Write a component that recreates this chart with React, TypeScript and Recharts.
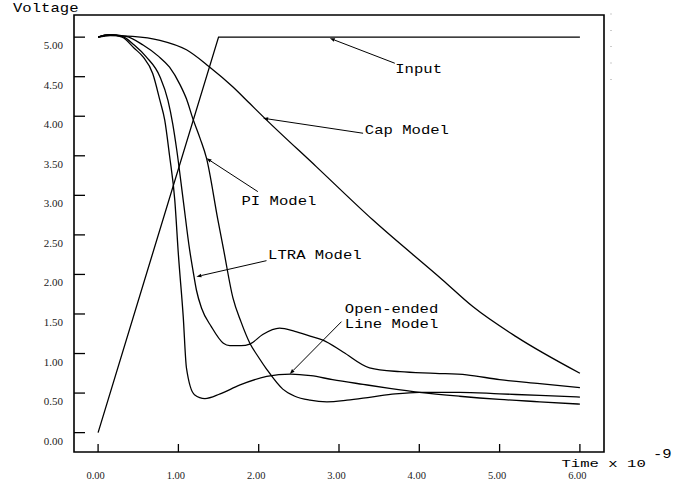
import React from 'react';
import { LineChart, Line, XAxis, YAxis, ReferenceLine, ReferenceDot, ReferenceArea } from 'recharts';

type P = [number, number];

const inputSeries: P[] = [[0, 0.0], [1.5, 5.0], [6.0, 5.0]];

const capSeries: P[] = [
  [0, 5.0], [0.15, 5.02], [0.43, 5.01], [0.77, 4.96], [1.1, 4.84], [1.38, 4.63],
  [1.68, 4.37], [1.89, 4.16], [2.08, 3.97], [2.72, 3.36], [3.42, 2.69], [4.29, 1.93],
  [4.67, 1.59], [5.21, 1.21], [6.0, 0.75],
];

const piSeries: P[] = [
  [0, 5.0], [0.15, 5.03], [0.35, 5.01], [0.56, 4.9], [0.75, 4.76], [0.89, 4.62],
  [1.02, 4.4], [1.1, 4.22], [1.18, 3.97], [1.27, 3.72], [1.35, 3.47], [1.49, 2.7],
  [1.56, 2.33], [1.68, 1.7], [1.78, 1.4], [1.89, 1.13], [2.0, 0.95], [2.1, 0.8],
  [2.3, 0.55], [2.45, 0.46], [2.64, 0.41], [2.85, 0.39], [3.1, 0.41], [3.4, 0.45],
  [3.7, 0.49], [4.0, 0.51], [4.5, 0.51], [5.0, 0.49], [5.5, 0.47], [6.0, 0.45],
];

const ltraSeries: P[] = [
  [0, 5.0], [0.15, 5.03], [0.3, 5.01], [0.45, 4.9], [0.6, 4.75], [0.77, 4.5],
  [0.87, 4.2], [0.93, 3.9], [0.98, 3.57], [1.06, 2.94], [1.14, 2.31], [1.18, 2.06],
  [1.225, 1.8], [1.29, 1.57], [1.41, 1.34], [1.56, 1.13], [1.64, 1.1], [1.78, 1.1],
  [1.89, 1.12], [2.05, 1.24], [2.26, 1.32], [2.45, 1.28], [2.64, 1.22], [2.8, 1.17],
  [3.05, 1.02], [3.38, 0.82], [3.76, 0.77], [4.2, 0.75], [4.59, 0.73], [5.0, 0.67],
  [5.5, 0.62], [6.0, 0.57],
];

const openSeries: P[] = [
  [0, 5.0], [0.15, 5.03], [0.3, 5.0], [0.45, 4.86], [0.56, 4.75], [0.68, 4.54],
  [0.77, 4.2], [0.83, 3.95], [0.89, 3.5], [0.955, 2.94], [1.0, 2.25], [1.06, 1.47],
  [1.1, 0.82], [1.2, 0.48], [1.33, 0.43], [1.52, 0.49], [1.76, 0.6], [2.1, 0.71],
  [2.4, 0.74], [2.65, 0.72], [2.92, 0.67], [3.3, 0.61], [3.63, 0.56], [4.0, 0.51],
  [4.5, 0.46], [5.0, 0.42], [5.5, 0.39], [6.0, 0.36],
];

const xTicks = [0, 1, 2, 3, 4, 5, 6];
const yTicks = [0, 0.5, 1, 1.5, 2, 2.5, 3, 3.5, 4, 4.5, 5];
const xDomain: P = [-0.3, 6.3];
const yDomain: P = [-0.245, 5.28];

type Ann = { lines: string[]; text: P; tail: P; head: P };
const annotations: Ann[] = [
  { lines: ['Input'], text: [3.7, 4.544], tail: [3.695, 4.67], head: [2.886, 4.986] },
  { lines: ['Cap Model'], text: [3.321, 3.779], tail: [3.3, 3.785], head: [2.055, 3.975] },
  { lines: ['PI Model'], text: [1.786, 2.879], tail: [1.989, 3.047], head: [1.35, 3.469] },
  { lines: ['LTRA Model'], text: [2.117, 2.192], tail: [2.097, 2.174], head: [1.225, 1.972] },
  { lines: ['Open-ended', 'Line Model'], text: [3.072, 1.517], tail: [3.031, 1.403], head: [2.387, 0.742] },
];

const toRows = (s: P[]) => s.map(([t, v]) => ({ t, v }));

const PLOT_L = 74;
const PLOT_R = 604;
const PLOT_T = 15;
const PLOT_B = 452;
const MONO = '"Liberation Mono", "DejaVu Sans Mono", monospace';
const SERIF = '"Liberation Serif", "DejaVu Serif", serif';

const MonoText = ({ x, y, lines, size = 12, sx = 1.3 }: { x: number; y: number; lines: string[]; size?: number; sx?: number }) => (
  <text transform={`translate(${x},${y}) scale(${sx},1)`} fontFamily={MONO} fontSize={size} fill="#000">
    {lines.map((l, i) => (
      <tspan key={i} x={0} dy={i === 0 ? 0 : 15}>{l}</tspan>
    ))}
  </text>
);

const LeftTick = (props: any) => {
  const y = props.payload?.coordinate ?? props.y;
  return (
    <g>
      <line x1={PLOT_L} x2={PLOT_L + 11} y1={y} y2={y} stroke="#000" strokeWidth={1.3} />
      <text x={63} y={y + 12} textAnchor="end" fontFamily={SERIF} fontSize={11} fill="#222">
        {Number(props.payload.value).toFixed(2)}
      </text>
    </g>
  );
};

const RightTick = (props: any) => {
  const y = props.payload?.coordinate ?? props.y;
  return <line x1={PLOT_R - 10} x2={PLOT_R} y1={y} y2={y} stroke="#000" strokeWidth={1.3} />;
};

const BottomTick = (props: any) => {
  const x = props.payload?.coordinate ?? props.x;
  return (
    <g>
      <line x1={x} x2={x} y1={PLOT_B - 8} y2={PLOT_B} stroke="#000" strokeWidth={1.3} />
      <text x={x - 2.5} y={478.5} textAnchor="middle" fontFamily={SERIF} fontSize={10.5} fill="#222">
        {Number(props.payload.value).toFixed(2)}
      </text>
    </g>
  );
};

const TopTick = (props: any) => {
  const x = props.payload?.coordinate ?? props.x;
  return <line x1={x} x2={x} y1={PLOT_T} y2={PLOT_T + 8} stroke="#000" strokeWidth={1.3} />;
};

const Arrow = (props: any) => {
  const { x1, y1, x2, y2 } = props;
  if ([x1, y1, x2, y2].some((v) => typeof v !== 'number' || isNaN(v))) return <g />;
  const dx = x2 - x1;
  const dy = y2 - y1;
  const len = Math.hypot(dx, dy) || 1;
  const ux = dx / len;
  const uy = dy / len;
  const hl = 5;
  const hw = 1.8;
  const bx = x2 - ux * hl;
  const by = y2 - uy * hl;
  const pts = `${x2},${y2} ${bx - uy * hw},${by + ux * hw} ${bx + uy * hw},${by - ux * hw}`;
  return (
    <g>
      <line x1={x1} y1={y1} x2={bx} y2={by} stroke="#000" strokeWidth={1} />
      <polygon points={pts} fill="#000" />
    </g>
  );
};

const AnnText = (lines: string[]) => (props: any) => {
  const { cx, cy } = props;
  if (typeof cx !== 'number' || typeof cy !== 'number') return <g />;
  return <MonoText x={cx} y={cy} lines={lines} />;
};

const Overlay = () => (
  <g>
    <MonoText x={13} y={12} lines={['Voltage']} />
    <MonoText x={561.5} y={466.5} lines={['Time x 10']} size={11} sx={1.42} />
    <MonoText x={653} y={458} lines={['-9']} />
    {[13.5, 30, 46, 62.5, 79].map((y, i) => (
      <rect key={i} x={610.5} y={y} width={1} height={1} fill="#999" />
    ))}
  </g>
);

const seriesList: { key: string; data: P[]; linear?: boolean }[] = [
  { key: 'input', data: inputSeries, linear: true },
  { key: 'cap', data: capSeries },
  { key: 'pi', data: piSeries },
  { key: 'ltra', data: ltraSeries },
  { key: 'open', data: openSeries },
];

export default function App() {
  return (
    <div style={{ position: 'absolute', left: 0, top: 0, width: 684, height: 485, background: '#fff' }}>
      <LineChart width={684} height={485} margin={{ top: PLOT_T, right: 684 - PLOT_R, bottom: 0, left: 0 }}>
        <XAxis
          dataKey="t"
          type="number"
          domain={xDomain}
          allowDataOverflow
          ticks={xTicks}
          interval={0}
          height={485 - PLOT_B}
          tickLine={false}
          axisLine={false}
          tick={<BottomTick />}
          label={<Overlay />}
        />
        <XAxis
          xAxisId="top"
          orientation="top"
          dataKey="t"
          type="number"
          domain={xDomain}
          allowDataOverflow
          ticks={xTicks}
          interval={0}
          height={0}
          tickLine={false}
          axisLine={false}
          tick={<TopTick />}
        />
        <YAxis
          type="number"
          domain={yDomain}
          allowDataOverflow
          ticks={yTicks}
          interval={0}
          width={PLOT_L}
          tickLine={false}
          axisLine={false}
          tick={<LeftTick />}
        />
        <YAxis
          yAxisId="right"
          orientation="right"
          type="number"
          domain={yDomain}
          allowDataOverflow
          ticks={yTicks}
          interval={0}
          width={0}
          tickLine={false}
          axisLine={false}
          tick={<RightTick />}
        />
        <ReferenceArea
          x1={xDomain[0]}
          x2={xDomain[1]}
          y1={yDomain[0]}
          y2={yDomain[1]}
          fill="none"
          fillOpacity={0}
          stroke="#000"
          strokeWidth={1.6}
          ifOverflow="visible"
        />
        {seriesList.map((s) => (
          <Line
            key={s.key}
            data={toRows(s.data)}
            dataKey="v"
            type={s.linear ? 'linear' : 'monotone'}
            stroke="#000"
            strokeWidth={1.3}
            dot={false}
            activeDot={false}
            isAnimationActive={false}
          />
        ))}
        {annotations.map((a, i) => (
          <ReferenceLine
            key={`l${i}`}
            segment={[{ x: a.tail[0], y: a.tail[1] }, { x: a.head[0], y: a.head[1] }]}
            shape={Arrow}
            ifOverflow="visible"
          />
        ))}
        {annotations.map((a, i) => (
          <ReferenceDot
            key={`d${i}`}
            x={a.text[0]}
            y={a.text[1]}
            r={0}
            shape={AnnText(a.lines)}
            ifOverflow="visible"
          />
        ))}
      </LineChart>
    </div>
  );
}
